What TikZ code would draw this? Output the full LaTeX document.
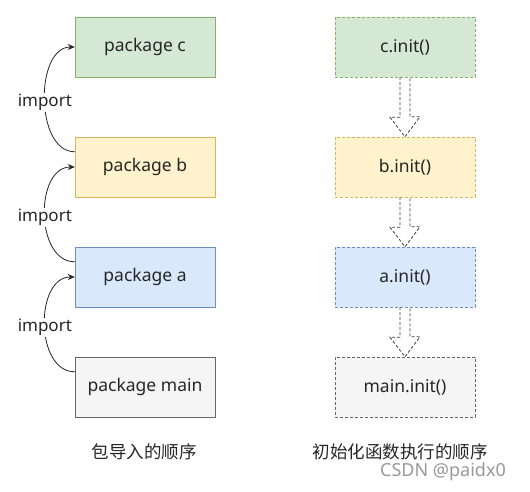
\documentclass[tikz,border=0pt]{standalone}
\usepackage{fontspec}
\setmainfont{Noto Sans}
\newfontfamily\cjk{Noto Sans CJK SC}
\usetikzlibrary{arrows.meta}
\definecolor{greenfill}{HTML}{D5E8D4}\definecolor{greenline}{HTML}{82B366}
\definecolor{yellowfill}{HTML}{FFF2CC}\definecolor{yellowline}{HTML}{D6B656}
\definecolor{bluefill}{HTML}{DAE8FC}\definecolor{blueline}{HTML}{6C8EBF}
\definecolor{grayfill}{HTML}{F5F5F5}\definecolor{grayline}{HTML}{666666}
\tikzset{
  pkg/.style={draw,minimum width=140pt,minimum height=60pt,inner sep=0pt,font=\fontsize{17.5}{21}\selectfont,text=black!85},
  initbox/.style={pkg,dash pattern=on 3pt off 2pt},
  imparrow/.style={-{Stealth[length=7pt,width=6pt]},black!85,line width=0.8pt},
  implabel/.style={fill=white,inner sep=1pt,font=\fontsize{17}{20}\selectfont,text=black!85},
  flowarrow/.style={black!75,line width=0.8pt,dash pattern=on 3pt off 2pt},
  caption/.style={font=\cjk\fontsize{17.5}{21}\selectfont,text=black!85},
}
\begin{document}
\begin{tikzpicture}[x=1pt,y=-1pt]
\useasboundingbox[fill=white] (0,0) rectangle (530,492);
\path (145,47) node[pkg,fill=greenfill,draw=greenline](pkgc){package c}
  (145,167) node[pkg,fill=yellowfill,draw=yellowline](pkgb){package b}
  (145,277) node[pkg,fill=bluefill,draw=blueline](pkga){package a}
  (145,387) node[pkg,fill=grayfill,draw=grayline](pkgmain){package main};
\path (405,47) node[initbox,fill=greenfill,draw=greenline](initc){c.init()}
  (405,167) node[initbox,fill=yellowfill,draw=yellowline](initb){b.init()}
  (405,277) node[initbox,fill=bluefill,draw=blueline](inita){a.init()}
  (405,387) node[initbox,fill=grayfill,draw=grayline](initmain){main.init()};
\path (144,452) node[caption](leftcap){包导入的顺序}
  (400,452) node[caption](rightcap){初始化函数执行的顺序}
  (443,472) node[font=\fontsize{18}{21}\selectfont,text=black!40](mark){CSDN @paidx0};

% import curves
\coordinate (bsrc) at ([yshift=-15pt]pkgb.north west);
\coordinate (asrc) at ([yshift=-15pt]pkga.north west);
\coordinate (mainsrc) at ([yshift=-15pt]pkgmain.north west);
\draw[imparrow] (bsrc) .. controls +(-40,0) and +(-40,0) .. (pkgc.west) node[pos=0.48,implabel]{import};
\draw[imparrow] (asrc) .. controls +(-40,0) and +(-40,0) .. (pkgb.west) node[pos=0.48,implabel]{import};
\draw[imparrow] (mainsrc) .. controls +(-40,0) and +(-40,0) .. (pkga.west) node[pos=0.48,implabel]{import};

% hollow init arrows
\draw[flowarrow] ([xshift=-5pt]initc.south) -- ++(0,40) -- ++(-10,0) -- (initb.north) -- ++(15,-20) -- ++(-10,0) -- ++(0,-40);
\draw[flowarrow] ([xshift=-5pt]initb.south) -- ++(0,30) -- ++(-10,0) -- (inita.north) -- ++(15,-20) -- ++(-10,0) -- ++(0,-30);
\draw[flowarrow] ([xshift=-5pt]inita.south) -- ++(0,30) -- ++(-10,0) -- (initmain.north) -- ++(15,-20) -- ++(-10,0) -- ++(0,-30);
\end{tikzpicture}
\end{document}
